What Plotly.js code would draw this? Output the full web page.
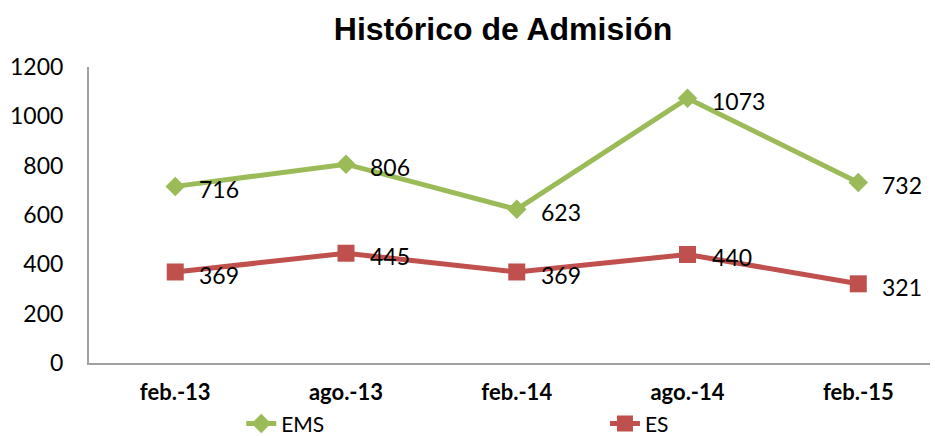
<!DOCTYPE html>
<html>
<head>
<meta charset="utf-8">
<script src="https://cdn.plot.ly/plotly-3.0.1.min.js"></script>
<style>html,body{margin:0;padding:0;background:#fff}#chart{width:935px;height:436px}</style>
</head>
<body>
<div id="chart"></div>
<script>
const categories = ["feb.-13", "ago.-13", "feb.-14", "ago.-14", "feb.-15"];
const emsValues = [716, 806, 623, 1073, 732];
const esValues = [369, 445, 369, 440, 321];
const yTicks = [0, 200, 400, 600, 800, 1000, 1200];

const idx = categories.map((c, i) => i);
const FONT = "Lato, 'Open Sans', sans-serif";

const traces = [
  {
    x: idx, y: emsValues, name: "EMS", type: "scatter", mode: "lines+markers",
    line: {color: "#9BBB59", width: 5},
    marker: {symbol: "diamond", size: 15, color: "#9BBB59"},
    legend: "legend"
  },
  {
    x: idx, y: esValues, name: "ES", type: "scatter", mode: "lines+markers",
    line: {color: "#C0504D", width: 5},
    marker: {symbol: "square", size: 17, color: "#C0504D"},
    legend: "legend2"
  }
];

const annotations = [];
[emsValues, esValues].forEach(vals => {
  vals.forEach((v, i) => {
    annotations.push({
      x: i, y: v, xref: "x", yref: "y", text: String(v), showarrow: false,
      xanchor: "left", yanchor: "middle", xshift: 22, yshift: -3,
      font: {family: FONT, size: 23, color: "#000"}
    });
  });
});

const legendBase = {
  orientation: "h", xref: "container", yref: "container", xanchor: "left", yanchor: "middle",
  y: 0.028, font: {family: FONT, size: 21, color: "#000"}, bgcolor: "rgba(0,0,0,0)", borderwidth: 0
};

const layout = {
  width: 935, height: 436,
  margin: {l: 89, r: 5, t: 67, b: 73},
  paper_bgcolor: "#fff", plot_bgcolor: "#fff",
  title: {text: "Histórico de Admisión", x: 0.538, xanchor: "center", y: 0.935, yanchor: "middle",
    font: {family: "'Liberation Sans', Arial, sans-serif", size: 32, color: "#000", weight: "bold"}},
  showlegend: true,
  legend: Object.assign({}, legendBase, {x: 0.258}),
  legend2: Object.assign({}, legendBase, {x: 0.647}),
  annotations: annotations,
  xaxis: {
    range: [-0.505, 4.42], tickvals: idx, ticktext: categories,
    showline: true, linecolor: "#A0A0A0", linewidth: 2, showgrid: false, zeroline: false,
    ticks: "", tickfont: {family: FONT, size: 22, color: "#000", weight: "bold"},
    ticklabelstandoff: 9, fixedrange: true, automargin: false
  },
  yaxis: {
    range: [0, 1200], tickvals: yTicks, ticktext: yTicks.map(String),
    showline: true, linecolor: "#A0A0A0", linewidth: 2, showgrid: false, zeroline: false,
    ticks: "", tickfont: {family: FONT, size: 23, color: "#000"},
    ticklabelstandoff: 19, fixedrange: true, automargin: false
  }
};

Plotly.newPlot("chart", traces, layout, {displayModeBar: false, staticPlot: true});
</script>
</body>
</html>
